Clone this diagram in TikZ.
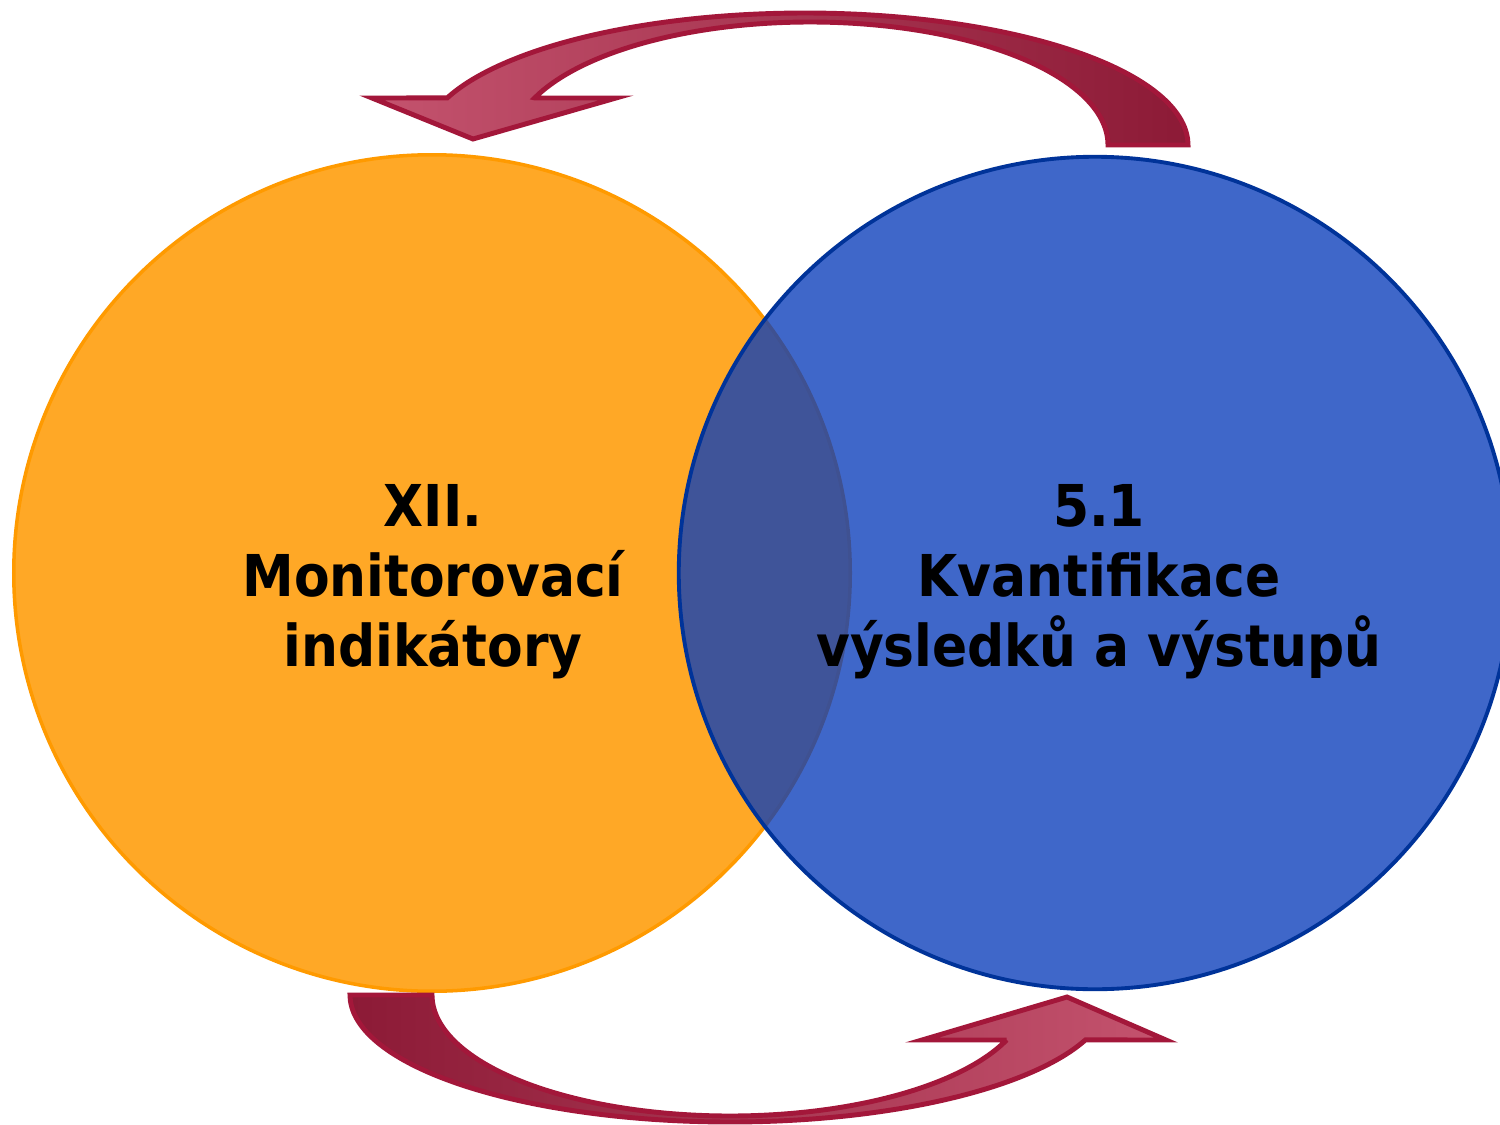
\documentclass[tikz,border=0pt]{standalone}
\usepackage{fontspec}
\setmainfont{DejaVu Sans Condensed}
\begin{document}
\begin{tikzpicture}[x=0.01cm,y=-0.01cm,
  arrowshape/.style={draw=arrowred, line width=1.4pt, line join=miter},
  lbl/.style={align=center, text=black, inner sep=0pt,
    font={\fontsize{16.4pt}{19.9pt}\selectfont\bfseries}}]
\definecolor{orfill}{HTML}{FFA826}
\definecolor{ordraw}{HTML}{FF9A00}
\definecolor{blfill}{RGB}{9,61,186}
\definecolor{bldraw}{HTML}{003399}
\definecolor{arrowred}{HTML}{A3173A}
\definecolor{arrowlight}{HTML}{C4536E}
\definecolor{arrowdark}{HTML}{8C1A36}
\useasboundingbox (0,0) rectangle (1500,1124);
\clip (0,0) rectangle (1500,1124);
\fill[white] (0,0) rectangle (1500,1124);
% circles
\node[circle, minimum size=8.36cm, inner sep=0pt, fill=orfill, draw=ordraw, line width=1pt] (left) at (432,573) {};
\node[circle, minimum size=8.32cm, inner sep=0pt, fill=blfill, fill opacity=0.78, draw=bldraw, draw opacity=1, line width=1.1pt] (right) at (1095,573) {};
% top arrow
\path[arrowshape, left color=arrowlight, right color=arrowdark]
  plot[domain=0:159.1, samples=60, smooth] ({805+383*cos(\x)},{145-132*sin(\x)})
  -- (372,98) -- (473,139) -- (616,98) -- (535,98)
  -- plot[domain=157.5:0, samples=60, smooth] ({810+298*cos(\x)},{145-123*sin(\x)})
  -- cycle;
% bottom arrow
\path[arrowshape, left color=arrowdark, right color=arrowlight]
  plot[domain=0:159.3, samples=60, smooth] ({730-380*cos(\x)},{995+127*sin(\x)})
  -- (1166,1040) -- (1067,997) -- (922,1040) -- (1006.6,1040)
  -- plot[domain=158.2:0, samples=60, smooth] ({730-298*cos(\x)},{995+121*sin(\x)})
  -- cycle;
% labels
\node[lbl] (ltext) at (433,582) {XII.\\Monitorovací\\indikátory};
\node[lbl] (rtext) at (1099,582) {5.1\\Kvantifikace\\výsledků a výstupů};
\end{tikzpicture}
\end{document}
